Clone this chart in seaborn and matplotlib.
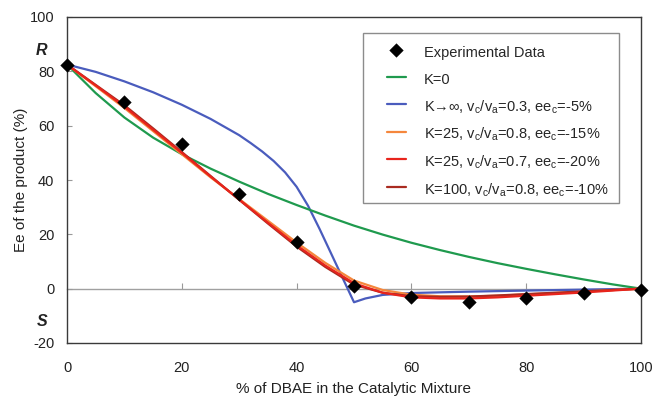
import matplotlib
matplotlib.use("Agg")
import matplotlib.pyplot as plt
import seaborn as sns
import pandas as pd
from matplotlib.patches import Rectangle

# ---------------- data ----------------
exp_x = [0, 10, 20, 30, 40, 50, 60, 70, 80, 90, 100]
exp_y = [82.5, 68.6, 53.3, 34.9, 17.2, 0.9, -3.1, -4.8, -3.4, -1.6, -0.4]

grid_x = [0, 5, 10, 15, 20, 25, 30, 35, 40, 45, 50, 55, 60, 65, 70, 75, 80, 85, 90, 95, 100]
k0_y = [82.5, 72.0, 63.0, 55.6, 49.5, 44.2, 39.4, 34.9, 30.8, 26.9, 23.2, 19.9, 16.9, 14.2,
        11.7, 9.4, 7.3, 5.3, 3.4, 1.6, 0.0]
kinf_x = [0, 5, 10, 15, 20, 25, 30, 32, 34, 36, 38, 40, 42, 44, 46, 48, 50, 52, 55, 60, 70,
          80, 90, 100]
kinf_y = [82.5, 79.8, 76.3, 72.3, 67.7, 62.5, 56.5, 53.6, 50.5, 47.0, 42.8, 37.5, 30.5, 22.0,
          13.0, 4.0, -5.0, -3.6, -2.3, -1.6, -1.1, -0.7, -0.35, 0.0]
k25a_y = [82.5, 74.5, 66.5, 58.0, 49.5, 41.0, 33.0, 25.0, 17.0, 9.5, 3.0, -0.5, -2.2, -2.8,
          -2.9, -2.6, -2.1, -1.6, -1.1, -0.5, 0.0]
k25b_y = [82.5, 74.8, 67.0, 58.5, 50.0, 41.3, 32.8, 24.3, 16.0, 8.5, 2.0, -1.5, -3.2, -3.6,
          -3.6, -3.2, -2.6, -2.0, -1.4, -0.7, 0.0]
k100_y = [82.5, 75.0, 67.5, 59.0, 50.3, 41.5, 32.7, 24.0, 15.5, 8.0, 1.5, -1.5, -2.8, -3.0,
          -2.9, -2.5, -2.0, -1.5, -1.0, -0.5, 0.0]

lab_exp = "Experimental Data"
lab_k0 = "K=0"
lab_kinf = "K\u2192\u221e, v$_\\mathregular{c}$/v$_\\mathregular{a}$=0.3, ee$_\\mathregular{c}$=-5%"
lab_k25a = "K=25, v$_\\mathregular{c}$/v$_\\mathregular{a}$=0.8, ee$_\\mathregular{c}$=-15%"
lab_k25b = "K=25, v$_\\mathregular{c}$/v$_\\mathregular{a}$=0.7, ee$_\\mathregular{c}$=-20%"
lab_k100 = "K=100, v$_\\mathregular{c}$/v$_\\mathregular{a}$=0.8, ee$_\\mathregular{c}$=-10%"

x_ticks = [0, 20, 40, 60, 80, 100]
y_ticks = [-20, 0, 20, 40, 60, 80, 100]
x_label = "% of DBAE in the Catalytic Mixture"
y_label = "Ee of the product (%)"

# ---------------- style ----------------
sns.set_style("white")
plt.rcParams["font.family"] = ["Liberation Sans", "DejaVu Sans"]
plt.rcParams["font.size"] = 10.5
plt.rcParams["axes.unicode_minus"] = False

fig = plt.figure(figsize=(6.53, 3.96), dpi=100)
ax = fig.add_axes([67 / 653, 1 - 343 / 396, 574 / 653, 326 / 396])

series = [
    (kinf_x, kinf_y, lab_kinf, "#4a5cbd"),
    (grid_x, k0_y, lab_k0, "#1f9a4e"),
    (grid_x, k25a_y, lab_k25a, "#f5873c"),
    (grid_x, k100_y, lab_k100, "#a92b20"),
    (grid_x, k25b_y, lab_k25b, "#e8241c"),
]
for xs, ys, lab, col in series:
    df = pd.DataFrame({"x": xs, "y": ys})
    sns.lineplot(data=df, x="x", y="y", ax=ax, color=col, lw=1.6, label=lab,
                 sort=False, zorder=2)

dfe = pd.DataFrame({"x": exp_x, "y": exp_y})
sns.scatterplot(data=dfe, x="x", y="y", ax=ax, marker="D", s=48, color="black",
                edgecolor="black", linewidth=0.3, label=lab_exp, zorder=4, clip_on=False)

ax.set_xlim(x_ticks[0], x_ticks[-1])
ax.set_ylim(y_ticks[0], y_ticks[-1])
ax.set_xticks(x_ticks)
ax.set_yticks(y_ticks)
ax.tick_params(axis="x", length=0, pad=13, labelsize=10.5, colors="#222222")
ax.tick_params(axis="y", direction="in", length=3.5, width=0.8, color="#999999",
               pad=9, labelsize=10.5, labelcolor="#222222", left=True)
for sp in ax.spines.values():
    sp.set_color("#3a3a3a")
    sp.set_linewidth(1.0)
ax.set_xlabel(x_label, fontsize=11, color="#222222", labelpad=5)
ax.set_ylabel(y_label, fontsize=11, color="#222222", labelpad=1)

# zero line with ticks (x-axis crossing at 0)
zero_loc = (0 - y_ticks[0]) / (y_ticks[-1] - y_ticks[0])
sec = ax.secondary_xaxis(zero_loc)
sec.set_xticks(x_ticks[1:-1])
sec.tick_params(direction="in", length=4.5, width=0.8, color="#999999", labelbottom=False)
sec.spines["bottom"].set_color("#a0a0a0")
sec.spines["bottom"].set_linewidth(1.0)

# R / S labels
ax.text(-4.4, 87.5, "R", ha="center", va="center", fontsize=11.5, fontweight="bold",
        fontstyle="italic", clip_on=False, color="#222222")
ax.text(-4.4, -12.0, "S", ha="center", va="center", fontsize=11.5, fontweight="bold",
        fontstyle="italic", clip_on=False, color="#222222")

# legend
h, l = ax.get_legend_handles_labels()
order = [lab_exp, lab_k0, lab_kinf, lab_k25a, lab_k25b, lab_k100]
hd = dict(zip(l, h))
box = Rectangle((0.5157, 0.4294), 0.446, 0.5215, transform=ax.transAxes,
                facecolor="white", edgecolor="#8c8c8c", lw=1.0, zorder=3)
ax.add_patch(box)
leg = ax.legend([hd[k] for k in order], order, loc="upper left",
                bbox_to_anchor=(0.5575, 0.919), frameon=False, borderpad=0,
                borderaxespad=0, handlelength=1.3, handletextpad=1.25,
                handleheight=1.5, labelspacing=0.63, fontsize=10.5)
leg.set_zorder(5)

fig.savefig("out.png", dpi=100)
